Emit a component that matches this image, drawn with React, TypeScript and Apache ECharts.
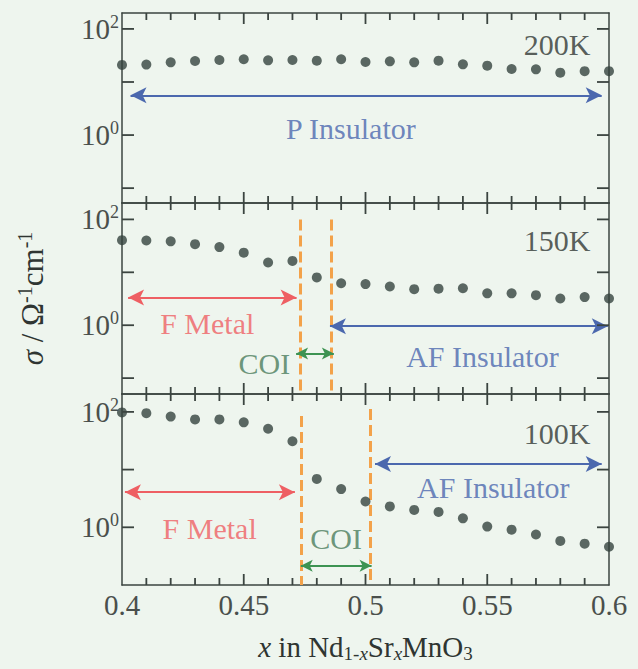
import React, { useEffect, useRef } from 'react';
import * as echarts from 'echarts';

const FONT = 'Liberation Serif, Times New Roman, serif';
const BG = '#eef5ee';
const AXIS_COLOR = '#3b4440';
const LABEL_COLOR = '#4a4f4c';
const DOT_COLOR = '#34433e';
const DARK_TEXT = '#2f3532';
const RED = '#ee5f63';
const BLUE = '#4b68ae';
const GREEN = '#3d9352';
const GREEN_TEXT = '#4a7c5c';
const ORANGE = '#f3a24a';

// x in Nd(1-x)Sr(x)MnO3
const compositions = [0.40, 0.41, 0.42, 0.43, 0.44, 0.45, 0.46, 0.47, 0.48, 0.49, 0.50,
  0.51, 0.52, 0.53, 0.54, 0.55, 0.56, 0.57, 0.58, 0.59, 0.60];
// conductivity sigma (Ohm^-1 cm^-1)
const sigma200K = [21.0, 21.3, 23.5, 24.9, 26.0, 26.8, 25.6, 26.0, 25.2, 26.8, 23.8,
  24.5, 23.5, 25.2, 21.5, 20.3, 17.6, 17.3, 15.0, 16.0, 16.0];
const sigma150K = [40.5, 40.0, 38.5, 34.0, 30.0, 23.5, 15.3, 16.4, 8.0, 6.2, 6.0,
  5.4, 4.8, 4.9, 5.0, 4.0, 4.0, 3.7, 3.2, 3.4, 3.2];
const sigma100K = [98, 95, 83, 74, 74, 66, 51, 31, 6.9, 4.6, 2.8,
  2.3, 2.0, 1.85, 1.43, 1.03, 0.91, 0.75, 0.58, 0.52, 0.46];

// tick positions
const xMajorTicks = [0.45, 0.50, 0.55];
const xMinorTicks = [0.41, 0.42, 0.43, 0.44, 0.46, 0.47, 0.48, 0.49,
  0.51, 0.52, 0.53, 0.54, 0.56, 0.57, 0.58, 0.59];
const yDecadeTicks = [0.1, 1, 10, 100];

const temperatures = ['200K', '150K', '100K'];
const panelSigmas = [sigma200K, sigma150K, sigma100K];
// log10 extents of each panel's y axis
const logExtents = [[-1.28, 2.30], [-1.30, 2.31], [-1.0, 2.31]];
const X_MIN = 0.4;
const X_MAX = 0.6;

// layout (pixels)
const GRID_LEFT = 122;
const GRID_RIGHT = 29;
const CHART_W = 638;
const CHART_H = 669;
const gridTops = [13, 203, 394];
const gridHeights = [190, 191, 191];

// dashed phase boundaries: [x, log10 of top end]
const boundaries200K: number[][] = [];
const boundaries150K = [[0.4731, 2.0], [0.4858, 2.0]];
const boundaries100K = [[0.4738, 1.93], [0.5021, 2.05]];

// double arrows (tip to tip): [from x, to x, log10 y]
const arrows200K = [[0.4035, 0.597, 0.75]];
const arrows150K = [[0.4025, 0.4717, 0.523], [0.4715, 0.487, -0.534], [0.4854, 0.5995, -0.019]];
const arrows100K = [[0.4012, 0.471, 0.609], [0.4734, 0.5025, -0.667], [0.5039, 0.597, 1.098]];
const arrowColors200K = [BLUE];
const arrowColors150K = [RED, GREEN, BLUE];
const arrowColors100K = [RED, GREEN, BLUE];

// text annotations: [text, x, log10 y]
const texts200K: [string, number, number][] = [['P Insulator', 0.494, 0.13]];
const texts150K: [string, number, number][] = [['F Metal', 0.435, 0.04], ['AF Insulator', 0.548, -0.6]];
const texts100K: [string, number, number][] = [['AF Insulator', 0.5525, 0.69], ['F Metal', 0.436, -0.02], ['COI', 0.4879, -0.19]];
const textColors200K = [BLUE];
const textColors150K = [RED, BLUE];
const textColors100K = [BLUE, RED, GREEN_TEXT];
// right-aligned texts: [text, right x, log10 y]
const rightTexts200K: [string, number, number][] = [['200K', 0.5926, 1.7]];
const rightTexts150K: [string, number, number][] = [['150K', 0.5926, 1.6], ['COI', 0.4693, -0.717]];
const rightTexts100K: [string, number, number][] = [['100K', 0.5926, 1.63]];
const rightTextColors200K = [DARK_TEXT];
const rightTextColors150K = [DARK_TEXT, GREEN_TEXT];
const rightTextColors100K = [DARK_TEXT];

const panelBoundaries = [boundaries200K, boundaries150K, boundaries100K];
const panelArrows = [arrows200K, arrows150K, arrows100K];
const panelArrowColors = [arrowColors200K, arrowColors150K, arrowColors100K];
const panelTexts = [texts200K, texts150K, texts100K];
const panelTextColors = [textColors200K, textColors150K, textColors100K];
const panelRightTexts = [rightTexts200K, rightTexts150K, rightTexts100K];
const panelRightTextColors = [rightTextColors200K, rightTextColors150K, rightTextColors100K];

const X_MAJOR_LEN = 11;
const X_MINOR_LEN = 7;
const Y_TICK_LEN = 12;
const TICK_W = 1.8;
const ANNOT_SIZE = 30;

function buildOption() {
  const grid: any[] = [];
  const xAxis: any[] = [];
  const yAxis: any[] = [];
  const series: any[] = [];

  const axisLine = () => ({ show: true, onZero: false, lineStyle: { color: AXIS_COLOR, width: 1.5 } });

  for (let p = 0; p < 3; p++) {
    grid.push({ left: GRID_LEFT, right: GRID_RIGHT, top: gridTops[p], height: gridHeights[p] });
    const isBottom = p === 2;
    const [lmin, lmax] = logExtents[p];
    const ymin = Math.pow(10, lmin);
    const ymax = Math.pow(10, lmax);

    const xBase = () => ({
      type: 'value', gridIndex: p, min: X_MIN, max: X_MAX, interval: 0.05,
      axisLine: axisLine(),
      splitLine: { show: false },
      axisTick: { show: false },
      minorTick: { show: false },
    });
    xAxis.push({
      ...xBase(), position: 'bottom',
      axisLabel: { show: isBottom, margin: 5, fontFamily: FONT, fontSize: 29, color: LABEL_COLOR },
      ...(isBottom ? {
        name: '{i|x}{r| in Nd}{s|1-}{si|x}{r|Sr}{si|x}{r|MnO}{s|3}',
        nameLocation: 'middle',
        nameGap: 45,
        nameTextStyle: {
          fontFamily: FONT, fontSize: 29, color: DARK_TEXT,
          rich: {
            i: { fontFamily: FONT, fontSize: 29, fontStyle: 'italic', color: DARK_TEXT },
            r: { fontFamily: FONT, fontSize: 29, color: DARK_TEXT },
            s: { fontFamily: FONT, fontSize: 19, color: DARK_TEXT, padding: [14, 0, 0, 0] },
            si: { fontFamily: FONT, fontSize: 19, fontStyle: 'italic', color: DARK_TEXT, padding: [14, 0, 0, 0] },
          },
        },
      } : {}),
    });
    xAxis.push({ ...xBase(), position: 'top', axisLabel: { show: false } });

    const yBase = () => ({
      type: 'log', gridIndex: p, min: ymin, max: ymax, logBase: 10,
      axisLine: axisLine(),
      splitLine: { show: false },
      minorTick: { show: false },
      axisTick: { show: false },
    });
    const isMiddle = p === 1;
    yAxis.push({
      ...yBase(), position: 'left',
      axisLabel: {
        show: true, margin: 3, showMinLabel: false, showMaxLabel: false,
        formatter: (v: number) => {
          const l = Math.log10(v);
          const e = Math.round(l);
          if (Math.abs(l - e) > 1e-6 || (e !== 0 && e !== 2)) return '';
          return `{b|10}{s|${e}}`;
        },
        rich: {
          b: { fontFamily: FONT, fontSize: 29, color: LABEL_COLOR },
          s: { fontFamily: FONT, fontSize: 18, color: LABEL_COLOR, padding: [0, 0, 14, 0] },
        },
      },
      ...(isMiddle ? {
        name: '{i|σ}{r| / Ω}{sup|-1}{r|cm}{sup|-1}',
        nameLocation: 'middle',
        nameRotate: 90,
        nameGap: 72,
        nameTextStyle: {
          fontFamily: FONT, fontSize: 31, color: DARK_TEXT,
          rich: {
            i: { fontFamily: FONT, fontSize: 31, fontStyle: 'italic', color: DARK_TEXT },
            r: { fontFamily: FONT, fontSize: 31, color: DARK_TEXT },
            sup: { fontFamily: FONT, fontSize: 20, color: DARK_TEXT, padding: [0, 0, 15, 0] },
          },
        },
      } : {}),
    });
    yAxis.push({ ...yBase(), position: 'right', axisLabel: { show: false } });

    const xi = 2 * p;
    const yi = 2 * p;

    // dashed boundaries
    series.push({
      type: 'scatter', xAxisIndex: xi, yAxisIndex: yi, data: [], silent: true,
      markLine: {
        silent: true, symbol: ['none', 'none'], label: { show: false },
        lineStyle: { color: ORANGE, width: 3, type: [11, 5] },
        emphasis: { disabled: true },
        data: panelBoundaries[p].map(([x, top]) => [
          { coord: [x, Math.pow(10, top)] }, { coord: [x, ymin * 1.0001] },
        ]),
      },
    });

    // arrows
    panelArrows[p].forEach(([from, to, ly], k) => {
      const short = to - from < 0.03;
      series.push({
        type: 'scatter', xAxisIndex: xi, yAxisIndex: yi, data: [], silent: true,
        markLine: {
          silent: true, symbol: ['arrow', 'arrow'], symbolSize: short ? [9, 12] : [12, 16],
          label: { show: false },
          lineStyle: { color: panelArrowColors[p][k], width: 2, type: 'solid' },
          emphasis: { disabled: true },
          data: [[
            { coord: [from, Math.pow(10, ly)] },
            { coord: [to, Math.pow(10, ly)] },
          ]],
        },
      });
    });

    // data points
    series.push({
      type: 'scatter', name: temperatures[p], xAxisIndex: xi, yAxisIndex: yi,
      symbol: 'circle', symbolSize: 10, clip: false,
      itemStyle: { color: DOT_COLOR },
      data: compositions.map((x, i) => [x, panelSigmas[p][i]]),
      silent: true, z: 5,
    });

    // centered texts
    series.push({
      type: 'scatter', xAxisIndex: xi, yAxisIndex: yi, symbolSize: 1, silent: true,
      itemStyle: { color: 'rgba(0,0,0,0)' },
      label: { show: true, position: 'inside', fontFamily: FONT, fontSize: ANNOT_SIZE },
      data: panelTexts[p].map(([t, x, ly], k) => ({
        value: [x, Math.pow(10, ly)],
        label: { formatter: t, color: panelTextColors[p][k] },
      })),
    });
    // right aligned texts
    series.push({
      type: 'scatter', xAxisIndex: xi, yAxisIndex: yi, symbolSize: 1, silent: true,
      itemStyle: { color: 'rgba(0,0,0,0)' },
      label: { show: true, position: 'left', distance: 0, fontFamily: FONT, fontSize: ANNOT_SIZE },
      data: panelRightTexts[p].map(([t, x, ly], k) => ({
        value: [x, Math.pow(10, ly)],
        label: { formatter: t, color: panelRightTextColors[p][k] },
      })),
    });
  }

  return {
    animation: false,
    backgroundColor: BG,
    textStyle: { fontFamily: FONT },
    grid, xAxis, yAxis, series,
  };
}

// inward ticks on all four sides, placed through each panel's own axes
function buildTicks(chart: any) {
  const els: any[] = [];
  const style = { stroke: AXIS_COLOR, lineWidth: TICK_W };
  for (let p = 0; p < 3; p++) {
    const finder = { xAxisIndex: 2 * p, yAxisIndex: 2 * p };
    const [lmin, lmax] = logExtents[p];
    const ymin = Math.pow(10, lmin);
    const ymax = Math.pow(10, lmax);
    const addX = (v: number, len: number) => {
      const b = chart.convertToPixel(finder, [v, ymin]);
      const t = chart.convertToPixel(finder, [v, ymax]);
      els.push({ type: 'line', silent: true, z: 50, shape: { x1: b[0], y1: b[1], x2: b[0], y2: b[1] - len }, style });
      els.push({ type: 'line', silent: true, z: 50, shape: { x1: t[0], y1: t[1], x2: t[0], y2: t[1] + len }, style });
    };
    xMajorTicks.forEach((v) => addX(v, X_MAJOR_LEN));
    xMinorTicks.forEach((v) => addX(v, X_MINOR_LEN));
    yDecadeTicks
      .filter((v) => Math.log10(v) > lmin + 0.01 && Math.log10(v) < lmax - 0.01)
      .forEach((v) => {
        const l = chart.convertToPixel(finder, [X_MIN, v]);
        const r = chart.convertToPixel(finder, [X_MAX, v]);
        els.push({ type: 'line', silent: true, z: 50, shape: { x1: l[0], y1: l[1], x2: l[0] + Y_TICK_LEN, y2: l[1] }, style });
        els.push({ type: 'line', silent: true, z: 50, shape: { x1: r[0], y1: r[1], x2: r[0] - Y_TICK_LEN, y2: r[1] }, style });
      });
  }
  return els;
}

export default function App() {
  const ref = useRef<HTMLDivElement>(null);
  useEffect(() => {
    if (!ref.current) return;
    const chart = echarts.init(ref.current, undefined, { renderer: 'svg' });
    chart.setOption(buildOption() as any);
    chart.setOption({ graphic: buildTicks(chart) } as any);
    return () => chart.dispose();
  }, []);
  return (
    <div
      ref={ref}
      style={{ position: 'fixed', left: 0, top: 0, width: CHART_W, height: CHART_H, background: BG }}
    />
  );
}
